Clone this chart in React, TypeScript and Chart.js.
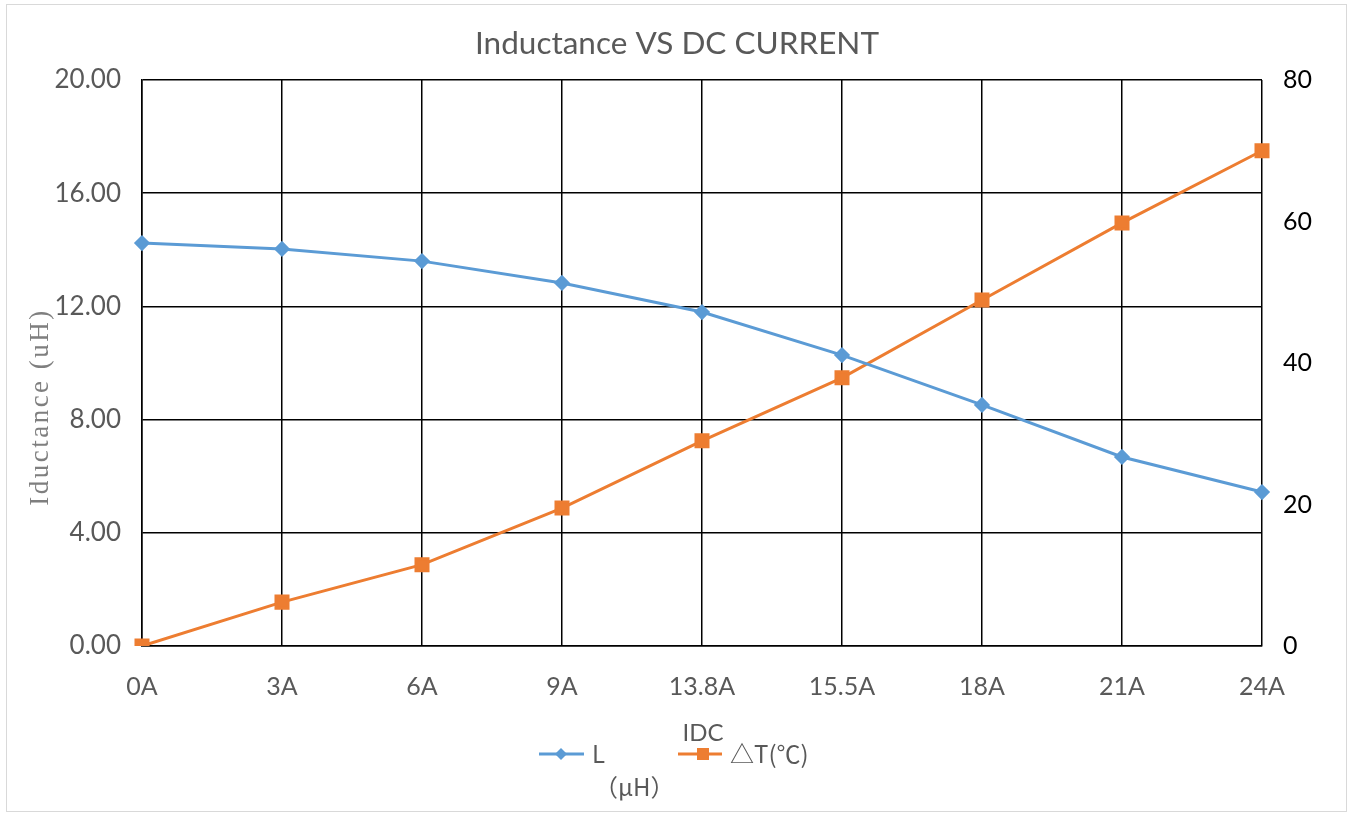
import React, { useEffect, useRef } from "react";
import { Chart, registerables } from "chart.js";

Chart.register(...registerables);

const categories = ["0A", "3A", "6A", "9A", "13.8A", "15.5A", "18A", "21A", "24A"];
const inductance = [14.24, 14.03, 13.6, 12.83, 11.8, 10.28, 8.52, 6.68, 5.44];
const deltaT = [0, 6.2, 11.5, 19.5, 29, 37.9, 48.9, 59.8, 70];
const leftRange = [0, 20];
const rightRange = [0, 80];
const titleText = "Inductance VS DC CURRENT";
const yTitleText = "Iductance (uH)";
const xTitleText = "IDC";
const legendL = ["L", "（µH）"];
const legendT = "△T(℃)";

const BLUE = "#5B9BD5";
const ORANGE = "#ED7D31";
const GRAY = "#595959";
const FONT = "Lato";
const CJK = '"Noto Sans CJK SC"';

const decor = {
  id: "decor",
  afterDraw(chart: any) {
    const ctx = chart.ctx as CanvasRenderingContext2D;
    ctx.save();
    // outer frame
    ctx.strokeStyle = "#d9d9d9";
    ctx.lineWidth = 1;
    ctx.strokeRect(6.5, 4.5, 1340, 807);

    // title
    ctx.fillStyle = GRAY;
    ctx.textAlign = "center";
    ctx.textBaseline = "middle";
    ctx.font = `31.5px ${FONT}`;
    ctx.fillText(titleText, 677, 44);

    // y title
    ctx.save();
    ctx.translate(41, 407);
    ctx.rotate(-Math.PI / 2);
    ctx.fillStyle = "#7f7f7f";
    ctx.font = `27px "Liberation Serif"`;
    (ctx as any).letterSpacing = "2.5px";
    ctx.fillText(yTitleText, 0, 0);
    ctx.restore();

    // x title
    ctx.fillStyle = GRAY;
    ctx.textAlign = "center";
    ctx.font = `24px ${FONT}`;
    ctx.fillText(xTitleText, 703, 733);

    // legend L
    const ly = 754;
    ctx.strokeStyle = BLUE;
    ctx.lineWidth = 3;
    ctx.beginPath();
    ctx.moveTo(539, ly);
    ctx.lineTo(584, ly);
    ctx.stroke();
    ctx.fillStyle = BLUE;
    ctx.beginPath();
    ctx.moveTo(561, ly - 6);
    ctx.lineTo(567, ly);
    ctx.lineTo(561, ly + 6);
    ctx.lineTo(555, ly);
    ctx.closePath();
    ctx.fill();
    ctx.fillStyle = GRAY;
    ctx.textAlign = "left";
    ctx.font = `24px ${CJK}`;
    ctx.fillText(legendL[0], 592, ly);
    ctx.fillText(legendL[1], 594, 787);

    // legend T
    ctx.strokeStyle = ORANGE;
    ctx.beginPath();
    ctx.moveTo(678, ly);
    ctx.lineTo(722, ly);
    ctx.stroke();
    ctx.fillStyle = ORANGE;
    ctx.fillRect(697, ly - 6, 12, 12);
    ctx.fillStyle = GRAY;
    ctx.fillText(legendT, 730, ly);
    ctx.restore();
  },
};

export default function App() {
  const ref = useRef<HTMLCanvasElement | null>(null);
  useEffect(() => {
    if (!ref.current) return;
    const chart = new Chart(ref.current, {
      type: "line",
      data: {
        labels: categories,
        datasets: [
          {
            label: "L",
            data: inductance,
            yAxisID: "y",
            borderColor: BLUE,
            backgroundColor: BLUE,
            borderWidth: 3,
            pointStyle: "rectRot",
            pointRadius: 6,
            tension: 0,
          },
          {
            label: legendT,
            data: deltaT,
            yAxisID: "y1",
            borderColor: ORANGE,
            backgroundColor: ORANGE,
            borderWidth: 3,
            pointStyle: "rect",
            pointRadius: 8.5,
            tension: 0,
          },
        ],
      },
      options: {
        responsive: false,
        animation: false,
        layout: { padding: { top: 80, left: 0, right: 0, bottom: 0 } },
        plugins: {
          legend: { display: false },
          title: { display: false },
          tooltip: { enabled: false },
        },
        scales: {
          x: {
            offset: false,
            grid: { color: "#000", lineWidth: 1.5, drawTicks: false },
            border: { color: "#000", width: 1.5 },
            ticks: { color: GRAY, font: { family: FONT, size: 25 }, padding: 26, maxRotation: 0 },
            afterFit: (s: any) => {
              s.height = 168;
            },
          },
          y: {
            position: "left",
            min: leftRange[0],
            max: leftRange[1],
            grid: { color: "#000", lineWidth: 1.5, drawTicks: false },
            border: { color: "#000", width: 1.5 },
            ticks: {
              stepSize: 4,
              color: GRAY,
              font: { family: FONT, size: 26 },
              padding: 21,
              callback: (v: any) => Number(v).toFixed(2),
            },
            afterFit: (s: any) => {
              s.width = 142;
            },
          },
          y1: {
            position: "right",
            min: rightRange[0],
            max: rightRange[1],
            grid: { drawOnChartArea: false, drawTicks: false },
            border: { display: false },
            ticks: { stepSize: 20, color: "#000", font: { family: FONT, size: 25 }, padding: 21 },
            afterFit: (s: any) => {
              s.width = 97;
            },
          },
        },
      },
      plugins: [decor],
    });
    return () => chart.destroy();
  }, []);
  return (
    <div style={{ position: "fixed", left: 0, top: 0, width: 1359, height: 814, background: "#fff" }}>
      <canvas ref={ref} width={1359} height={814} />
    </div>
  );
}
